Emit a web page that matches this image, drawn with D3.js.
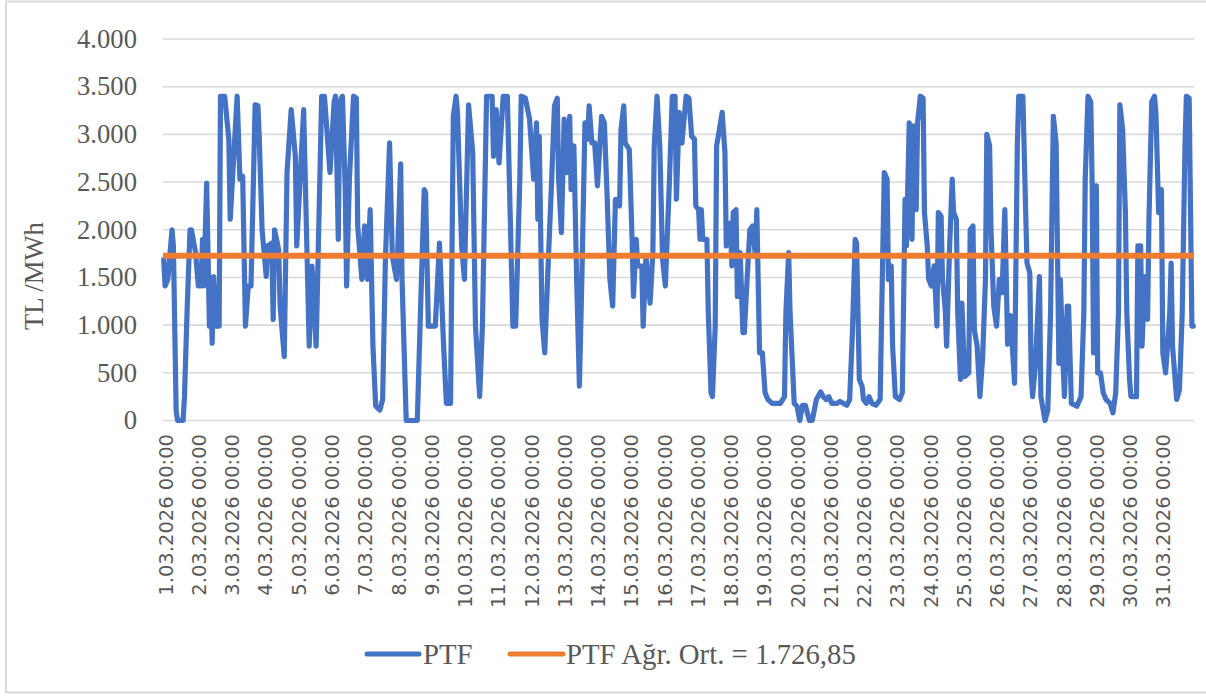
<!DOCTYPE html>
<html><head><meta charset="utf-8">
<script src="https://cdn.jsdelivr.net/npm/d3@7"></script>
<style>html,body{margin:0;padding:0;background:#fff;} svg{display:block;}</style>
</head><body>
<svg id="chart" width="1206" height="696"></svg>
<script>
// Hour index (0 = 1.03.2026 00:00) of the line's visible turning points, and PTF values (TL/MWh)
const hours = [0,1,3,6,7,9,10,14,15,17,19,20,23,25,27,28,29,31,33,34,35,36,38,40,41,44,47,48,51,53,55,57,59,61,63,66,68,69,71,74,75,78,79,80,83,84,87,89,92,95,96,101,105,107,110,114,116,120,
123,124,126,127,129,131,132,134,137,139,140,143,145,147,149,151,153,156,158,160,163,165,168,169,171,172,175,183,186,188,189,191,196,199,202,204,207,209,211,212,215,217,220,223,225,228,230,233,237,238,240,242,
245,248,250,252,254,257,258,261,264,267,269,270,271,273,275,277,280,282,284,285,287,289,291,293,294,296,298,300,302,304,306,307,309,311,313,316,318,320,322,324,326,329,330,332,333,336,338,339,341,342,345,346,348,351,353,354,356,358,360,362,365,367,
369,370,372,374,377,379,381,383,384,386,387,388,389,392,393,395,396,398,399,401,403,405,406,409,410,411,413,414,416,418,419,421,423,425,427,428,430,432,434,436,439,445,448,449,451,452,455,457,459,461,463,466,468,471,474,476,478,480,482,486,
488,493,495,497,499,500,502,504,505,507,509,511,514,517,519,520,522,523,525,526,528,531,533,535,536,538,540,541,543,544,546,548,549,551,552,554,556,558,559,561,562,564,565,567,569,570,572,573,575,576,578,581,582,584,585,587,589,591,593,594,596,597,599,601,603,605,607,609,611,612,614,616,617,620,
622,623,625,626,627,629,632,633,636,638,640,641,642,644,646,647,649,650,652,653,655,659,662,664,665,667,669,670,671,673,674,676,678,680,683,685,687,689,690,692,694,695,697,698,702,703,705,706,708,710,711,713,715,716,718,720,721,723,726,727,728,731,733,735,737,738,740,742,743];
const prices = [1690,1410,1480,2000,1830,100,0,0,250,1200,2000,2000,1760,1410,1410,1900,1410,2490,990,1480,810,1510,990,990,3400,3400,2950,2110,2880,3400,2530,2560,990,1410,1410,3310,3300,2950,2000,1510,1830,1860,1060,2000,1790,1200,670,2600,3260,2770,1830,3260,780,1620,780,3400,3400,2600,
3340,3400,1900,3340,3400,2420,1410,2530,3400,3380,2040,1480,2040,1480,2210,780,150,110,220,1690,2910,1720,1480,1830,2690,1480,0,0,1480,2420,2390,990,990,1860,780,180,180,3190,3400,3230,1830,1480,3310,2810,990,250,990,3400,3400,2770,3260,2700,
3400,3400,2180,990,990,2530,3400,3380,3160,2530,3120,2110,2980,1060,710,1480,2530,3300,3380,2530,1970,3160,2600,3190,2420,2880,1480,360,1650,3120,2950,3300,2910,2910,2460,3190,3120,2350,1480,1200,2320,2250,3050,3300,2910,2840,1900,1300,1900,1620,1620,990,1720,1230,1760,2880,3400,2880,1690,1410,2530,3400,
3400,2320,3230,2910,3400,3380,2980,2950,2250,2210,1900,2210,1900,1900,1130,290,250,990,2880,3050,3230,2810,1830,2070,1620,2180,2210,1300,1760,920,920,1480,2000,2040,1720,2210,710,710,290,220,180,180,250,1130,1760,1130,180,150,0,160,160,0,0,220,300,250,220,250,180,180,
200,160,220,920,1900,1860,430,360,220,180,250,180,160,220,1830,2600,2530,1480,1620,780,250,220,290,2320,1830,3120,1900,3090,2210,3120,3400,3380,2180,1830,1480,1410,1620,990,2180,2140,1480,1160,780,1760,2530,2180,2110,1130,430,1230,460,500,2000,2040,950,780,250,670,1480,3000,2880,2000,1200,990,1480,1340,2210,800,1100,880,390,2880,3400,3400,
2210,1650,1550,500,250,570,1510,250,0,110,1130,2180,3190,2910,600,1480,600,250,1200,1200,180,150,250,1130,2530,3400,3340,2490,710,2460,500,500,290,220,180,80,290,1130,3310,3050,2180,1130,430,250,250,1830,1830,780,1510,1060,2110,3340,3400,3230,2180,2420,710,500,1130,1650,780,220,320,1130,2880,3400,3380,990,990];
const avgPrice = 1726.85;
const dayLabels = d3.range(1, 32).map(d => d + ".03.2026 00:00");
const labelHours = d3.range(0, 31).map(d => d * 24);
const yTicks = [0, 500, 1000, 1500, 2000, 2500, 3000, 3500, 4000];
const yTickLabels = ["0", "500", "1.000", "1.500", "2.000", "2.500", "3.000", "3.500", "4.000"];
const yTitle = "TL /MWh";
const seriesNames = ["PTF", "PTF Ağr. Ort. = 1.726,85"];
const colors = ["#4472C4", "#ED7D31"];

const svg = d3.select("#chart");
const serif = "'Liberation Serif','Times New Roman',serif";
const sans = "'DejaVu Sans',sans-serif";
const textColor = "#595959";
const gridColor = "#D9D9D9";

// border
svg.append("rect").attr("x", 6).attr("y", 1.5).attr("width", 1210).attr("height", 691)
  .attr("fill", "#fff").attr("stroke", gridColor).attr("stroke-width", 2);

const x = d3.scaleLinear().domain([-0.5, 743.5]).range([163, 1194]);
const y = d3.scaleLinear().domain([0, 4000]).range([420.5, 39]);

// gridlines
svg.append("g").selectAll("line").data(yTicks).join("line")
  .attr("x1", 163).attr("x2", 1194)
  .attr("y1", d => y(d)).attr("y2", d => y(d))
  .attr("stroke", gridColor).attr("stroke-width", 1.6);

// y tick labels
svg.append("g").selectAll("text").data(yTicks).join("text")
  .attr("x", 137).attr("y", d => y(d)).attr("dy", "0.33em")
  .attr("text-anchor", "end").attr("font-family", serif).attr("font-size", 26.67)
  .attr("fill", textColor).text((d, i) => yTickLabels[i]);

// y title
svg.append("text").attr("transform", "translate(43,276) rotate(-90)")
  .attr("text-anchor", "middle").attr("font-family", serif).attr("font-size", 26.67)
  .attr("fill", textColor).text(yTitle);

// x labels
svg.append("g").selectAll("text").data(labelHours).join("text")
  .attr("transform", d => `translate(${x(d) + 2},434) rotate(-90)`)
  .attr("dy", "0.36em").attr("text-anchor", "end")
  .attr("font-family", sans).attr("font-size", 19.5)
  .attr("fill", textColor).text((d, i) => dayLabels[i]);

// PTF line
const pts = hours.map((h, i) => [h, prices[i]]);
svg.append("path").datum(pts)
  .attr("fill", "none").attr("stroke", colors[0]).attr("stroke-width", 5.2)
  .attr("stroke-linejoin", "round").attr("stroke-linecap", "round")
  .attr("d", d3.line().x(d => x(d[0])).y(d => y(d[1])));

// average line
svg.append("line").attr("x1", 163).attr("x2", 1194)
  .attr("y1", y(avgPrice)).attr("y2", y(avgPrice))
  .attr("stroke", colors[1]).attr("stroke-width", 6);

// legend
const legendItems = [{x1: 367, x2: 419, tx: 423}, {x1: 510, x2: 563, tx: 566}];
const lg = svg.append("g");
legendItems.forEach((it, i) => {
  lg.append("line").attr("x1", it.x1).attr("x2", it.x2).attr("y1", 654).attr("y2", 654)
    .attr("stroke", colors[i]).attr("stroke-width", 5).attr("stroke-linecap", "round");
  lg.append("text").attr("x", it.tx).attr("y", 664)
    .attr("font-family", serif).attr("font-size", 28.8).attr("fill", textColor)
    .text(seriesNames[i]);
});
</script>
</body></html>
